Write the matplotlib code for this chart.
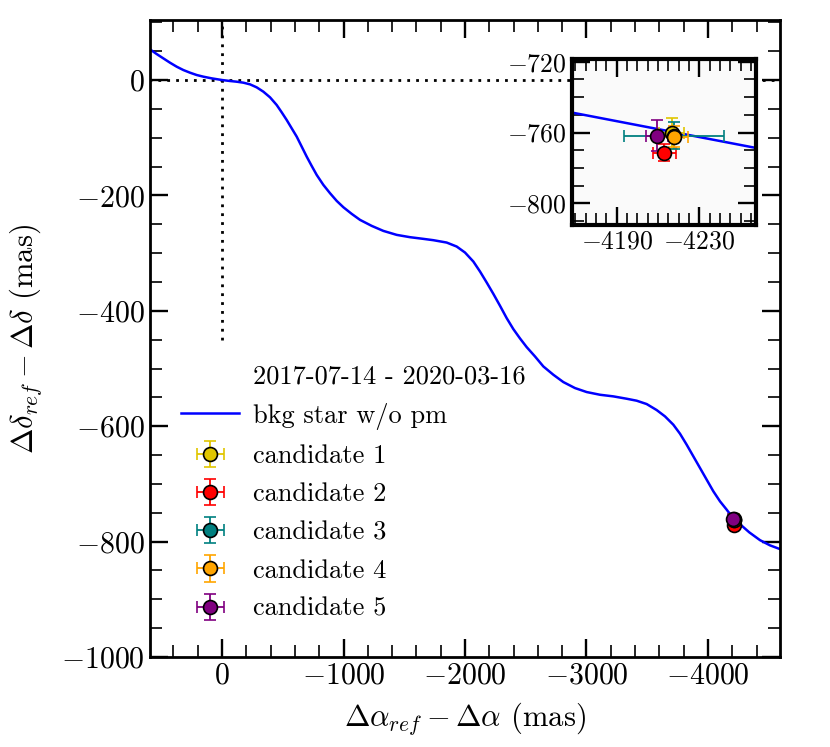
import numpy as np
import matplotlib.pyplot as plt
from matplotlib.ticker import MultipleLocator

plt.rcParams['font.family'] = 'serif'
plt.rcParams['font.serif'] = ['cmr10']
plt.rcParams['mathtext.fontset'] = 'cm'
plt.rcParams['axes.formatter.use_mathtext'] = True

# background star track (no proper motion)
track_x = [592.6, 537.7, 482.9, 428.0, 373.1, 318.3, 263.4, 208.5, 153.6, 85.0,
           0.0, -65.8, -120.7, -175.6, -230.5, -285.3, -340.2, -395.1, -450.0,
           -491.2, -532.4, -573.5, -614.7, -655.8, -697.0, -738.1, -779.3,
           -834.2, -889.0, -943.9, -998.8, -1067.4, -1136.0, -1232.0, -1328.0,
           -1437.7, -1547.5, -1657.2, -1739.5, -1849.1, -1931.4, -2000.0,
           -2068.6, -2123.5, -2178.3, -2233.2, -2288.1, -2343.0, -2397.8,
           -2452.7, -2507.5, -2576.1, -2644.7, -2727.0, -2809.3, -2905.3,
           -3001.4, -3111.1, -3220.8, -3330.6, -3412.9, -3495.2, -3577.5,
           -3646.1, -3714.7, -3769.5, -3824.4, -3879.3, -3934.2, -3989.0,
           -4043.9, -4098.8, -4153.6, -4168.2, -4257.4, -4340.0, -4428.0,
           -4510.3, -4592.6]
track_y = [53.1, 45.0, 37.5, 30.0, 23.1, 17.3, 12.7, 8.7, 5.8, 2.9,
           0.0, -1.7, -2.9, -4.6, -7.5, -12.7, -20.2, -30.0, -43.3,
           -56.0, -69.3, -83.7, -98.1, -115.4, -132.8, -148.9, -164.5,
           -181.8, -196.2, -209.5, -220.5, -232.0, -242.4, -252.8, -261.5,
           -268.4, -272.4, -275.3, -277.6, -281.7, -288.6, -299.0,
           -314.6, -331.9, -350.9, -370.6, -391.3, -412.7, -431.7,
           -447.9, -462.9, -479.1, -496.4, -510.8, -523.5, -533.9,
           -540.8, -545.5, -548.3, -552.4, -555.8, -561.6, -572.0,
           -583.0, -597.4, -613.0, -632.0, -652.2, -672.4, -692.6,
           -712.8, -730.2, -744.6, -748.7, -768.7, -784.0, -797.5,
           -806.5, -813.0]

# candidates
names = ['candidate 1', 'candidate 2', 'candidate 3', 'candidate 4', 'candidate 5']
colors = ['#e0c600', 'red', 'teal', 'orange', 'purple']
cand_x = [-4216.6, -4213.0, -4217.7, -4217.5, -4209.4]
cand_y = [-760.4, -771.3, -761.8, -762.3, -761.7]
cand_xerr = [6.0, 5.5, 24.0, 7.0, 5.3]
cand_yerr = [8.7, 5.0, 7.5, 6.0, 9.0]

epoch_label = '2017-07-14 - 2020-03-16'


def style_ticks(ax, labelsize):
    ax.tick_params(which='both', direction='in', top=True, right=True,
                   labelsize=labelsize)
    ax.tick_params(which='major', length=13, width=1.7)
    ax.tick_params(which='minor', length=8.5, width=1.2)


fig = plt.figure(figsize=(8.3, 7.47), dpi=100)
ax = fig.add_axes([0.1807, 0.1205, 0.7591, 0.8527])

ax.plot([0, 0], [-450, 110], color='k', ls=(0, (1, 2.2)), lw=2,
        dash_capstyle='butt')
ax.plot([600, -4600], [0, 0], color='k', ls=(0, (1, 2.2)), lw=2,
        dash_capstyle='butt')

dummy, = ax.plot([], [], ' ', label=epoch_label)
line, = ax.plot(track_x, track_y, color='b', lw=1.8, label='bkg star w/o pm')

handles = [dummy, line]
for i in range(len(names)):
    eb = ax.errorbar(cand_x[i], cand_y[i], xerr=cand_xerr[i], yerr=cand_yerr[i],
                     fmt='o', color=colors[i], ecolor=colors[i], ms=10,
                     mec='k', mew=1.2, capsize=4.5, elinewidth=1.3,
                     capthick=1.3, label=names[i])
    handles.append(eb)

ax.set_xlim(593, -4593)
ax.set_ylim(-1000, 104)
ax.xaxis.set_major_locator(MultipleLocator(1000))
ax.xaxis.set_minor_locator(MultipleLocator(200))
ax.yaxis.set_major_locator(MultipleLocator(200))
ax.yaxis.set_minor_locator(MultipleLocator(50))
style_ticks(ax, 21.5)
for sp in ax.spines.values():
    sp.set_linewidth(2)

ax.set_xlabel(r'$\Delta\alpha_{ref} - \Delta\alpha$ (mas)', fontsize=22,
              labelpad=7.5)
ax.set_ylabel(r'$\Delta\delta_{ref} - \Delta\delta$ (mas)', fontsize=22,
              labelpad=12.5)

ax.legend(handles=handles, loc='lower left', bbox_to_anchor=(0.033, 0.04),
          borderaxespad=0, frameon=False, fontsize=19, handlelength=2.2,
          handletextpad=0.5, labelspacing=0.55)

# zoomed inset
axin = fig.add_axes([0.6888, 0.6988, 0.2220, 0.2222], facecolor='#fafafa')
axin.plot(track_x, track_y, color='b', lw=1.8)
for i in range(len(names)):
    axin.errorbar(cand_x[i], cand_y[i], xerr=cand_xerr[i], yerr=cand_yerr[i],
                  fmt='o', color=colors[i], ecolor=colors[i], ms=10,
                  mec='k', mew=1.2, capsize=4.5, elinewidth=1.3, capthick=1.3)
axin.set_xlim(-4168.2, -4257.4)
axin.set_ylim(-812.2, -718.5)
axin.set_xticks([-4190, -4230])
axin.xaxis.set_minor_locator(MultipleLocator(5))
axin.yaxis.set_major_locator(MultipleLocator(40))
axin.yaxis.set_minor_locator(MultipleLocator(10))
style_ticks(axin, 18.5)
for sp in axin.spines.values():
    sp.set_linewidth(3)

fig.savefig('out.png', dpi=100)
